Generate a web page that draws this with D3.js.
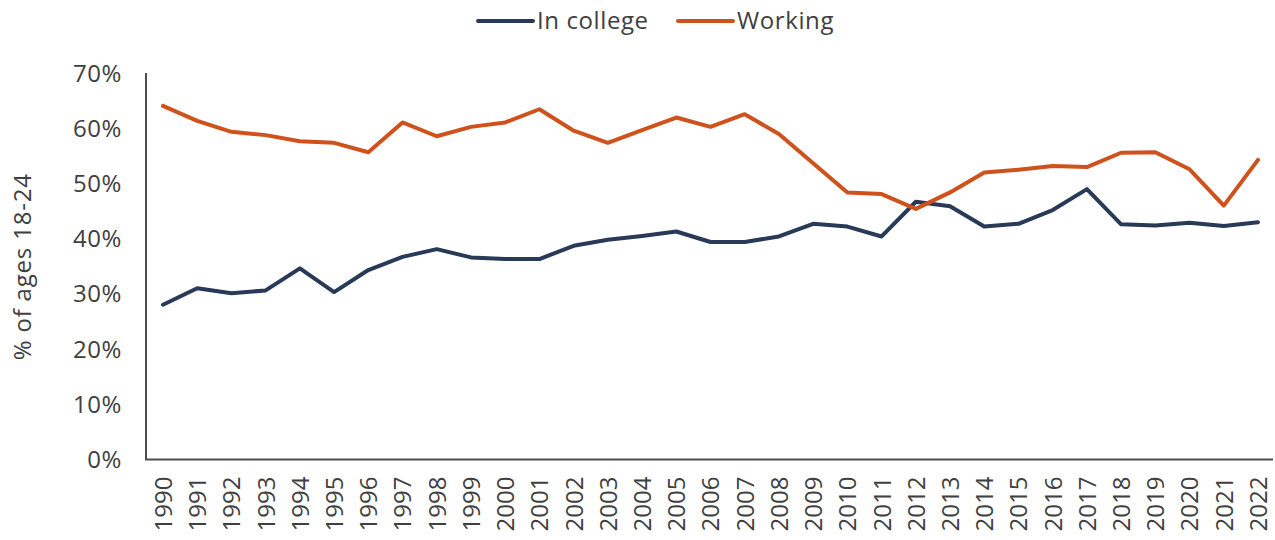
<!DOCTYPE html>
<html>
<head>
<meta charset="utf-8">
<script src="https://cdn.jsdelivr.net/npm/d3@7"></script>
<style>
  html, body { margin: 0; padding: 0; background: #fff; }
  svg { display: block; font-family: "Open Sans", "Noto Sans", sans-serif; }
</style>
</head>
<body>
<svg id="chart" width="1275" height="540"></svg>
<script>
// Share of 18-24 year olds in college and working, by year (%)
const years = [1990, 1991, 1992, 1993, 1994, 1995, 1996, 1997, 1998, 1999, 2000, 2001,
  2002, 2003, 2004, 2005, 2006, 2007, 2008, 2009, 2010, 2011, 2012, 2013, 2014, 2015,
  2016, 2017, 2018, 2019, 2020, 2021, 2022];

const inCollege = [28.1, 31.1, 30.2, 30.7, 34.7, 30.4, 34.4, 36.8, 38.2, 36.7, 36.4, 36.4,
  38.8, 39.9, 40.6, 41.4, 39.5, 39.5, 40.5, 42.8, 42.3, 40.5, 46.8, 46.0, 42.3, 42.8,
  45.3, 49.1, 42.7, 42.5, 43.0, 42.4, 43.1];

const working = [64.2, 61.5, 59.5, 58.9, 57.8, 57.5, 55.8, 61.2, 58.7, 60.4, 61.2, 63.6,
  59.7, 57.5, 59.8, 62.1, 60.4, 62.7, 59.1, 53.8, 48.5, 48.2, 45.5, 48.5, 52.1, 52.6,
  53.3, 53.1, 55.7, 55.8, 52.7, 46.1, 54.4];

const yTicks = [0, 10, 20, 30, 40, 50, 60, 70];

const seriesNames = ["In college", "Working"];
const seriesColors = ["#283a57", "#cf521c"];

const svg = d3.select("#chart");

const plot = { left: 146, right: 1273, top: 74, bottom: 459.5 };

const x = d3.scalePoint()
  .domain(years)
  .range([163, 1258]);

const y = d3.scaleLinear()
  .domain([0, 70])
  .range([plot.bottom, plot.top]);

const axisColor = "#4d4d4d";
const textColor = "#404040";
const fontSize = 24;

// Y axis: labels only, with the vertical rule
const yAxis = svg.append("g")
  .attr("transform", `translate(${plot.left},0)`)
  .call(d3.axisLeft(y).tickValues(yTicks).tickFormat(d => d + "%").tickSize(0).tickPadding(24));
yAxis.select(".domain").remove();
yAxis.selectAll("text")
  .attr("fill", textColor)
  .attr("font-size", fontSize)
  .attr("letter-spacing", 0.6)
  .attr("font-family", "'Open Sans', sans-serif");

svg.append("line")
  .attr("x1", plot.left).attr("x2", plot.left)
  .attr("y1", plot.top - 1).attr("y2", plot.bottom)
  .attr("stroke", axisColor).attr("stroke-width", 2);

// X axis: rotated year labels below the baseline
const xAxis = svg.append("g")
  .attr("transform", `translate(0,${plot.bottom})`)
  .call(d3.axisBottom(x).tickSize(0).tickFormat(d3.format("d")));
xAxis.select(".domain").remove();
xAxis.selectAll("text")
  .attr("fill", textColor)
  .attr("font-size", fontSize)
  .attr("font-family", "'Open Sans', sans-serif")
  .attr("transform", "rotate(-90)")
  .attr("text-anchor", "end")
  .attr("x", -17)
  .attr("y", 0)
  .attr("dy", "0.35em");

svg.append("line")
  .attr("x1", plot.left - 1).attr("x2", plot.right)
  .attr("y1", plot.bottom).attr("y2", plot.bottom)
  .attr("stroke", axisColor).attr("stroke-width", 2);

// Y axis title
svg.append("text")
  .attr("transform", `translate(31,${(plot.top + plot.bottom) / 2}) rotate(-90)`)
  .attr("text-anchor", "middle")
  .attr("fill", textColor)
  .attr("font-size", fontSize)
  .attr("letter-spacing", 0.8)
  .text("% of ages 18-24");

// Lines
const line = d3.line()
  .x((d, i) => x(years[i]))
  .y(d => y(d));

[inCollege, working].forEach((vals, k) => {
  svg.append("path")
    .datum(vals)
    .attr("fill", "none")
    .attr("stroke", seriesColors[k])
    .attr("stroke-width", 4)
    .attr("stroke-linejoin", "round")
    .attr("stroke-linecap", "round")
    .attr("d", line);
});

// Legend
const legend = svg.append("g").attr("transform", "translate(0,21)");
const legendX = [478, 678];
seriesNames.forEach((name, k) => {
  const g = legend.append("g").attr("transform", `translate(${legendX[k]},0)`);
  g.append("line")
    .attr("x1", 0).attr("x2", 55)
    .attr("y1", 0).attr("y2", 0)
    .attr("stroke", seriesColors[k])
    .attr("stroke-width", 4)
    .attr("stroke-linecap", "round");
  g.append("text")
    .attr("x", 59)
    .attr("y", 0)
    .attr("dy", "0.35em")
    .attr("fill", textColor)
    .attr("font-size", fontSize)
    .attr("letter-spacing", 0.6)
    .text(name);
});
</script>
</body>
</html>
